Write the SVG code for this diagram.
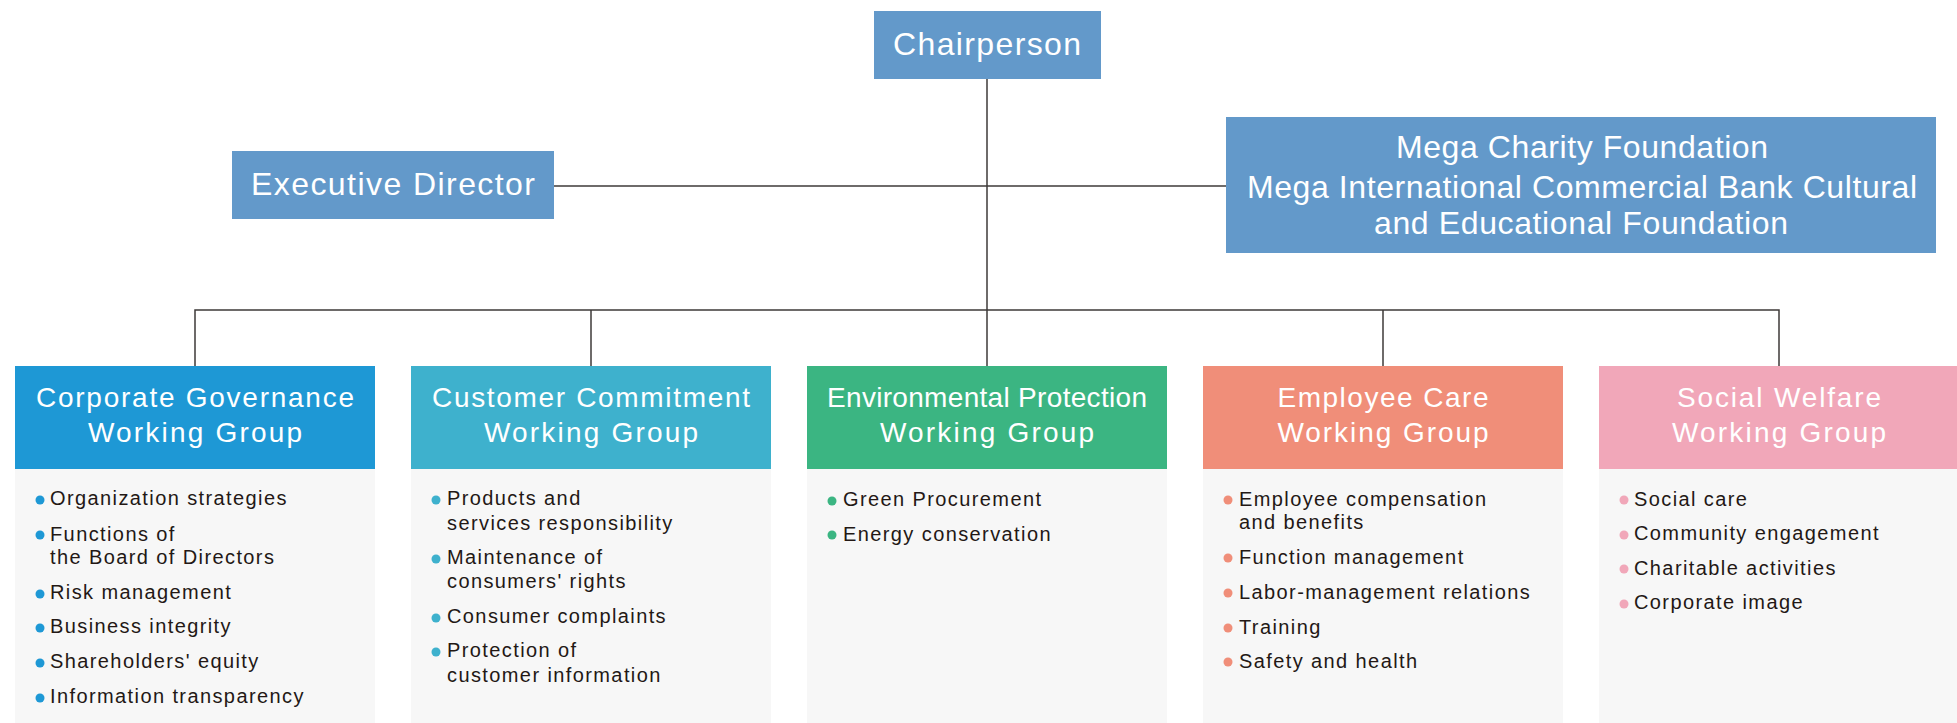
<svg xmlns="http://www.w3.org/2000/svg" width="1957" height="723" viewBox="0 0 1957 723">
<style>
.top{fill:#6399ca}
.tt{font-family:"Liberation Sans",Arial,sans-serif;font-size:32px;fill:#fff;text-anchor:middle}
.ht{font-family:"Liberation Sans",Arial,sans-serif;font-size:28px;fill:#fff;text-anchor:middle}
.body{fill:#f7f7f7}
.it{font-family:"Liberation Sans",Arial,sans-serif;font-size:20px;fill:#231815;letter-spacing:1.4px}
.ln{stroke:#3e3a39;stroke-width:1.5;fill:none}
</style>
<g id="connectors">
<line class="ln" x1="987" y1="79" x2="987" y2="366"/>
<line class="ln" x1="554" y1="186" x2="1226" y2="186"/>
<polyline class="ln" points="195,366 195,310 1779,310 1779,366"/>
<line class="ln" x1="591" y1="310" x2="591" y2="366"/>
<line class="ln" x1="1383" y1="310" x2="1383" y2="366"/>
</g>
<g id="chairperson">
<rect class="top" x="874" y="11" width="227" height="68"/>
<text class="tt" x="987" y="55" textLength="188">Chairperson</text>
</g>
<g id="executive-director">
<rect class="top" x="232" y="151" width="322" height="68"/>
<text class="tt" x="393" y="195" textLength="284">Executive Director</text>
</g>
<g id="foundations">
<rect class="top" x="1226" y="117" width="710" height="136"/>
<text class="tt" x="1582" y="158" textLength="372">Mega Charity Foundation</text>
<text class="tt" x="1582" y="198" textLength="670">Mega International Commercial Bank Cultural</text>
<text class="tt" x="1581" y="234" textLength="414">and Educational Foundation</text>
</g>
<g id="corporate-governance">
<rect x="15" y="366" width="360" height="103" fill="#1e98d5"/>
<rect class="body" x="15" y="469" width="360" height="254"/>
<text class="ht" x="195" y="407" textLength="318">Corporate Governance</text>
<text class="ht" x="195" y="442" textLength="214">Working Group</text>
<g fill="#1e98d5">
<circle cx="40" cy="500" r="4.5"/><circle cx="40" cy="535" r="4.5"/><circle cx="40" cy="594" r="4.5"/><circle cx="40" cy="628" r="4.5"/><circle cx="40" cy="663" r="4.5"/><circle cx="40" cy="698" r="4.5"/>
</g>
<text class="it" x="50" y="505">Organization strategies</text>
<text class="it" x="50" y="541">Functions of</text>
<text class="it" x="50" y="564">the Board of Directors</text>
<text class="it" x="50" y="599">Risk management</text>
<text class="it" x="50" y="633">Business integrity</text>
<text class="it" x="50" y="668">Shareholders' equity</text>
<text class="it" x="50" y="703">Information transparency</text>
</g>
<g id="customer-commitment">
<rect x="411" y="366" width="360" height="103" fill="#3eb1cd"/>
<rect class="body" x="411" y="469" width="360" height="254"/>
<text class="ht" x="591" y="407" textLength="318">Customer Commitment</text>
<text class="ht" x="591" y="442" textLength="214">Working Group</text>
<g fill="#3eb1cd">
<circle cx="436" cy="500" r="4.5"/><circle cx="436" cy="559" r="4.5"/><circle cx="436" cy="618" r="4.5"/><circle cx="436" cy="652" r="4.5"/>
</g>
<text class="it" x="447" y="505">Products and</text>
<text class="it" x="447" y="530">services responsibility</text>
<text class="it" x="447" y="564">Maintenance of</text>
<text class="it" x="447" y="588">consumers' rights</text>
<text class="it" x="447" y="623">Consumer complaints</text>
<text class="it" x="447" y="657">Protection of</text>
<text class="it" x="447" y="682">customer information</text>
</g>
<g id="environmental-protection">
<rect x="807" y="366" width="360" height="103" fill="#3bb582"/>
<rect class="body" x="807" y="469" width="360" height="254"/>
<text class="ht" x="987" y="407" textLength="320">Environmental Protection</text>
<text class="ht" x="987" y="442" textLength="214">Working Group</text>
<g fill="#3bb582">
<circle cx="832" cy="501" r="4.5"/><circle cx="832" cy="535" r="4.5"/>
</g>
<text class="it" x="843" y="506">Green Procurement</text>
<text class="it" x="843" y="541">Energy conservation</text>
</g>
<g id="employee-care">
<rect x="1203" y="366" width="360" height="103" fill="#f08e79"/>
<rect class="body" x="1203" y="469" width="360" height="254"/>
<text class="ht" x="1383" y="407" textLength="211">Employee Care</text>
<text class="ht" x="1383" y="442" textLength="211">Working Group</text>
<g fill="#f08e79">
<circle cx="1228" cy="500" r="4.5"/><circle cx="1228" cy="558" r="4.5"/><circle cx="1228" cy="593" r="4.5"/><circle cx="1228" cy="628" r="4.5"/><circle cx="1228" cy="662" r="4.5"/>
</g>
<text class="it" x="1239" y="506">Employee compensation</text>
<text class="it" x="1239" y="529">and benefits</text>
<text class="it" x="1239" y="564">Function management</text>
<text class="it" x="1239" y="599">Labor-management relations</text>
<text class="it" x="1239" y="634">Training</text>
<text class="it" x="1239" y="668">Safety and health</text>
</g>
<g id="social-welfare">
<rect x="1599" y="366" width="358" height="103" fill="#f1a7b9"/>
<rect class="body" x="1599" y="469" width="358" height="254"/>
<text class="ht" x="1779" y="407" textLength="204">Social Welfare</text>
<text class="ht" x="1779" y="442" textLength="214">Working Group</text>
<g fill="#f1a7b9">
<circle cx="1624" cy="500" r="4.5"/><circle cx="1624" cy="535" r="4.5"/><circle cx="1624" cy="569" r="4.5"/><circle cx="1624" cy="604" r="4.5"/>
</g>
<text class="it" x="1634" y="506">Social care</text>
<text class="it" x="1634" y="540">Community engagement</text>
<text class="it" x="1634" y="575">Charitable activities</text>
<text class="it" x="1634" y="609">Corporate image</text>
</g>
</svg>
